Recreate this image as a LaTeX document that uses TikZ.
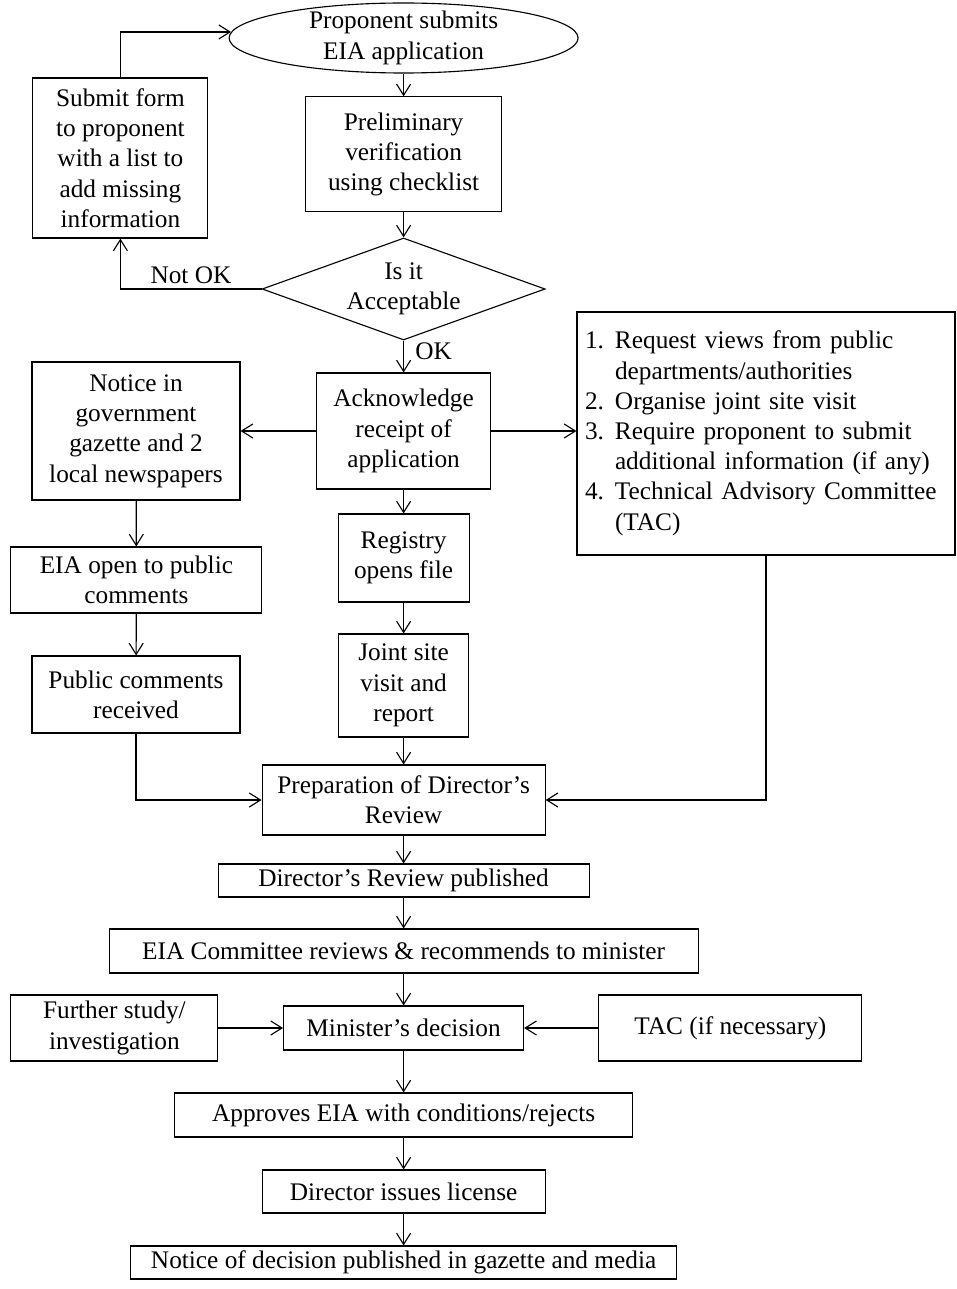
\documentclass[tikz,border=0pt]{standalone}
\usepackage{fontspec}
\setmainfont{Liberation Serif}
\usetikzlibrary{arrows.meta,positioning,calc,shapes.geometric}

\begin{document}
\begin{tikzpicture}[
  font=\fontsize{18}{21.5}\selectfont, >={Straight Barb[length=8pt,width=10pt]},
  line width=0.8pt,
  blk/.style={draw, align=center, inner sep=0pt},
  lbl/.style={align=center, inner sep=0pt}]
\useasboundingbox (0,0) rectangle (23.9,-32.225);
\node[blk, ellipse, minimum width=8.725cm, minimum height=1.75cm] (start) at (10.09,-0.95) {};
\node[lbl] (starttxt) at (start) {Proponent submits\\EIA application};
\node[blk, minimum width=4.9cm, minimum height=2.875cm] (prelim) at (10.09,-3.86) {Preliminary\\verification\\using checklist};
\node[blk, diamond, minimum width=7.075cm, minimum height=2.55cm] (accept) at (10.09,-7.225) {};
\node[lbl] (accepttxt) at (accept) {Is it\\Acceptable};
\node[blk, minimum width=4.375cm, minimum height=4cm] (submit) at (3.01,-3.95) {Submit form\\to proponent\\with a list to\\add missing\\information};
\node[blk, minimum width=4.35cm, minimum height=2.9cm] (ack) at (10.09,-10.775) {Acknowledge\\receipt of\\application};
\node[blk, minimum width=5.2cm, minimum height=3.45cm] (notice) at (3.4,-10.775) {Notice in\\government\\gazette and 2\\local newspapers};
\node[draw, align=left, text width=9.05cm, inner xsep=0.2cm, inner ysep=0pt, minimum height=6.075cm] (lst) at (19.15,-10.8375) {%
  \begin{tabular}{@{}p{0.75cm}@{}l@{}}
  1. & Request views from public\\
     & departments/authorities\\
  2. & Organise joint site visit\\
  3. & Require proponent to submit\\
     & additional information (if any)\\
  4. & Technical Advisory Committee\\
     & (TAC)
  \end{tabular}};
\node[blk, minimum width=6.275cm, minimum height=1.65cm] (open) at (3.41,-14.5) {EIA open to public\\comments};
\node[blk, minimum width=5.2cm, minimum height=1.925cm] (pubc) at (3.4,-17.3625) {Public comments\\received};
\node[blk, minimum width=3.275cm, minimum height=2.2cm] (reg) at (10.09,-13.95) {Registry\\opens file};
\node[blk, minimum width=3.25cm, minimum height=2.575cm] (joint) at (10.09,-17.1375) {Joint site\\visit and\\report};
\node[blk, minimum width=7.075cm, minimum height=1.75cm] (prep) at (10.09,-20) {Preparation of Director's\\Review};
\node[blk, minimum width=9.275cm, minimum height=0.825cm] (drp) at (10.09,-22.0125) {Director's Review published};
\node[blk, minimum width=14.725cm, minimum height=1.1cm] (eiac) at (10.09,-23.775) {EIA Committee reviews \& recommends to minister};
\node[blk, minimum width=6cm, minimum height=1.1cm] (min) at (10.09,-25.7) {Minister's decision};
\node[blk, minimum width=5.175cm, minimum height=1.65cm] (further) at (2.86,-25.7) {Further study/\\investigation};
\node[blk, minimum width=6.575cm, minimum height=1.65cm] (tac) at (18.26,-25.7) {TAC (if necessary)};
\node[blk, minimum width=11.45cm, minimum height=1.1cm] (appr) at (10.09,-27.875) {Approves EIA with conditions/rejects};
\node[blk, minimum width=7.075cm, minimum height=1.075cm] (issue) at (10.09,-29.7875) {Director issues license};
\node[blk, minimum width=13.65cm, minimum height=0.825cm] (pubdec) at (10.09,-31.5625) {Notice of decision published in gazette and media};
\draw[->] (start) -- (prelim);
\draw[->] (prelim) -- (accept);
\draw[->] (accept.west) -| node[above, pos=0.25, inner sep=3pt] (notok) {Not OK} (submit.south);
\draw[->] (submit.north) |- (start.178);
\draw[->] (accept.south) -- node[right, pos=0.35, inner sep=8pt] (ok) {OK} (ack.north);
\draw[->] (ack) -- (notice);
\draw[->] (ack.east) -- (ack.east -| lst.west);
\draw[->] (ack) -- (reg); \draw[->] (reg) -- (joint); \draw[->] (joint) -- (prep);
\draw[->] (notice) -- (open); \draw[->] (open) -- (pubc);
\draw[->] (pubc.south) |- (prep.west);
\draw[->] (lst.south) |- (prep.east);
\draw[->] (prep) -- (drp); \draw[->] (drp) -- (eiac); \draw[->] (eiac) -- (min);
\draw[->] (further) -- (min); \draw[->] (tac) -- (min);
\draw[->] (min) -- (appr); \draw[->] (appr) -- (issue); \draw[->] (issue) -- (pubdec);
\end{tikzpicture}
\end{document}
